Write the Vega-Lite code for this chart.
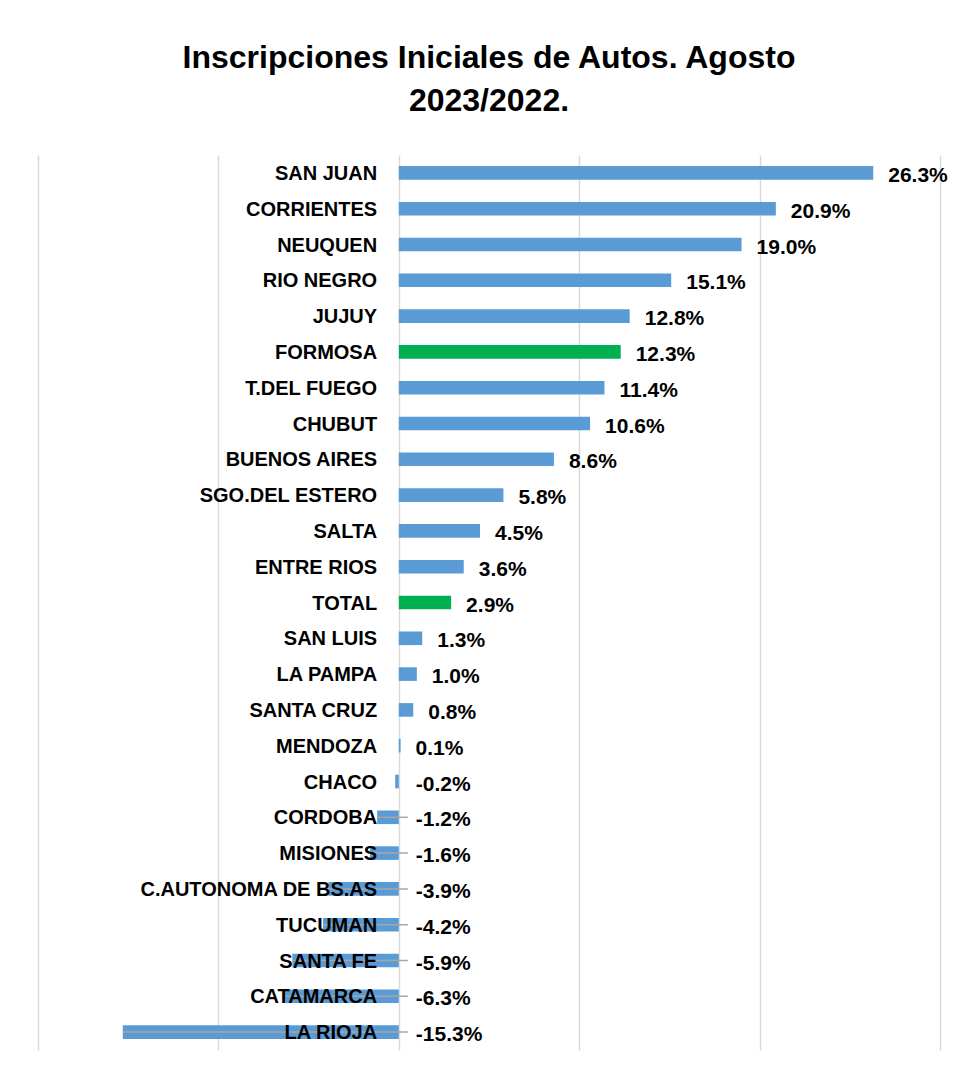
{
  "$schema": "https://vega.github.io/schema/vega-lite/v6.json",
  "width": 902,
  "height": 895,
  "autosize": "none",
  "padding": {"left": 38, "top": 155, "right": 14, "bottom": 22},
  "background": "white",
  "title": {
    "text": ["Inscripciones Iniciales de Autos. Agosto", "2023/2022."],
    "font": "Liberation Sans",
    "fontSize": 32,
    "fontWeight": "bold",
    "lineHeight": 43,
    "color": "#000000",
    "anchor": "middle",
    "offset": 37
  },
  "data": {
    "values": [
      {"provincia": "SAN JUAN", "valor": 0.263},
      {"provincia": "CORRIENTES", "valor": 0.209},
      {"provincia": "NEUQUEN", "valor": 0.190},
      {"provincia": "RIO NEGRO", "valor": 0.151},
      {"provincia": "JUJUY", "valor": 0.128},
      {"provincia": "FORMOSA", "valor": 0.123},
      {"provincia": "T.DEL FUEGO", "valor": 0.114},
      {"provincia": "CHUBUT", "valor": 0.106},
      {"provincia": "BUENOS AIRES", "valor": 0.086},
      {"provincia": "SGO.DEL ESTERO", "valor": 0.058},
      {"provincia": "SALTA", "valor": 0.045},
      {"provincia": "ENTRE RIOS", "valor": 0.036},
      {"provincia": "TOTAL", "valor": 0.029},
      {"provincia": "SAN LUIS", "valor": 0.013},
      {"provincia": "LA PAMPA", "valor": 0.010},
      {"provincia": "SANTA CRUZ", "valor": 0.008},
      {"provincia": "MENDOZA", "valor": 0.001},
      {"provincia": "CHACO", "valor": -0.002},
      {"provincia": "CORDOBA", "valor": -0.012},
      {"provincia": "MISIONES", "valor": -0.016},
      {"provincia": "C.AUTONOMA DE BS.AS", "valor": -0.039},
      {"provincia": "TUCUMAN", "valor": -0.042},
      {"provincia": "SANTA FE", "valor": -0.059},
      {"provincia": "CATAMARCA", "valor": -0.063},
      {"provincia": "LA RIOJA", "valor": -0.153}
    ]
  },
  "encoding": {
    "y": {
      "field": "provincia",
      "type": "nominal",
      "sort": null,
      "axis": null,
      "scale": {"paddingInner": 0.62, "paddingOuter": 0.31}
    }
  },
  "layer": [
    {
      "mark": {"type": "bar"},
      "encoding": {
        "x": {
          "field": "valor",
          "type": "quantitative",
          "scale": {"domain": [-0.2, 0.3], "nice": false, "zero": true},
          "axis": {
            "values": [-0.2, -0.1, 0, 0.1, 0.2, 0.3],
            "grid": true,
            "gridColor": "#d9d9d9",
            "gridWidth": 1.5,
            "labels": false,
            "ticks": false,
            "domain": false,
            "title": null
          }
        },
        "color": {
          "condition": {"test": "datum.provincia === 'FORMOSA' || datum.provincia === 'TOTAL'", "value": "#00b050"},
          "value": "#5b9bd5"
        }
      }
    },
    {
      "transform": [{"filter": "datum.valor < -0.01"}],
      "mark": {"type": "rule", "color": "#a6a6a6", "strokeWidth": 1.5},
      "encoding": {
        "x": {"field": "valor", "type": "quantitative"},
        "x2": {"datum": 0.005}
      }
    },
    {
      "mark": {"type": "text", "align": "right", "baseline": "middle", "font": "Liberation Sans", "fontSize": 20, "fontWeight": "bold", "color": "#000000", "dy": 1},
      "encoding": {
        "x": {"datum": -0.012},
        "text": {"field": "provincia"}
      }
    },
    {
      "transform": [{"filter": "datum.valor >= 0"}],
      "mark": {"type": "text", "align": "left", "baseline": "middle", "font": "Liberation Sans", "fontSize": 21, "fontWeight": "bold", "color": "#000000", "dx": 15, "dy": 3},
      "encoding": {
        "x": {"field": "valor", "type": "quantitative"},
        "text": {"field": "valor", "type": "quantitative", "format": ".1%"}
      }
    },
    {
      "transform": [{"filter": "datum.valor < 0"}],
      "mark": {"type": "text", "align": "left", "baseline": "middle", "font": "Liberation Sans", "fontSize": 21, "fontWeight": "bold", "color": "#000000", "dx": 17, "dy": 3},
      "encoding": {
        "x": {"datum": 0},
        "text": {"field": "valor", "type": "quantitative", "format": ".1%"}
      }
    }
  ],
  "config": {
    "view": {"stroke": null},
    "locale": {
      "number": {"decimal": ".", "thousands": ",", "grouping": [3], "currency": ["$", ""], "minus": "-"}
    }
  }
}
